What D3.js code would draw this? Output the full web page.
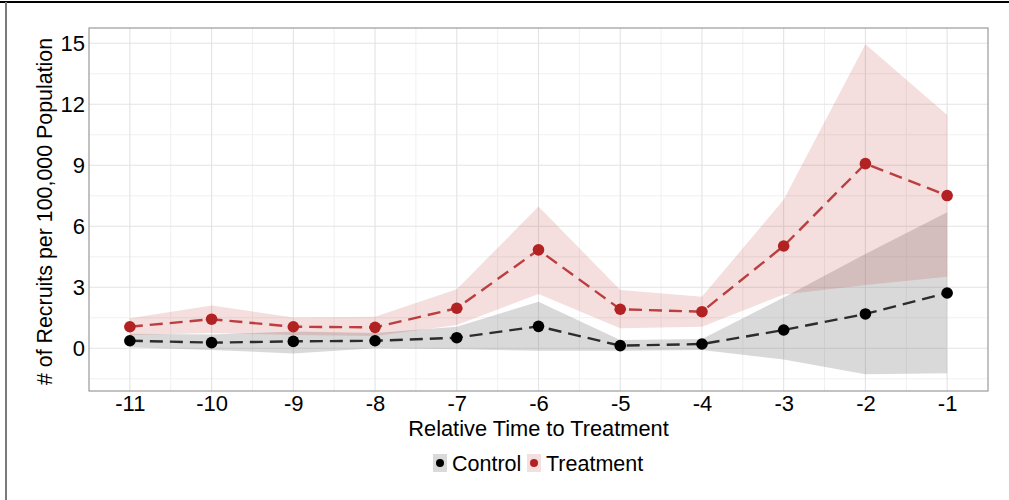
<!DOCTYPE html>
<html>
<head>
<meta charset="utf-8">
<script src="https://cdn.jsdelivr.net/npm/d3@7"></script>
<style>
  body { margin: 0; background: #fff; }
  svg { display: block; font-family: "Liberation Sans", Arial, sans-serif; }
</style>
</head>
<body>
<div class="canvas"></div>
<script>
// data
const times = [-11, -10, -9, -8, -7, -6, -5, -4, -3, -2, -1];
const controlMean = [0.37, 0.28, 0.34, 0.37, 0.52, 1.08, 0.13, 0.21, 0.90, 1.69, 2.72];
const controlLow = [0.05, -0.08, -0.25, 0.0, -0.05, -0.12, -0.12, -0.08, -0.55, -1.28, -1.23];
const controlHigh = [0.72, 0.68, 0.82, 0.75, 1.06, 2.29, 0.41, 0.46, 2.5, 4.64, 6.69];
const treatMean = [1.06, 1.43, 1.06, 1.03, 1.97, 4.84, 1.92, 1.80, 5.03, 9.08, 7.51];
const treatLow = [0.65, 0.75, 0.65, 0.6, 1.15, 2.67, 0.98, 1.06, 2.65, 3.11, 3.52];
const treatHigh = [1.48, 2.10, 1.52, 1.55, 2.9, 6.97, 2.87, 2.54, 7.3, 14.95, 11.47];
const yTicks = [0, 3, 6, 9, 12, 15];
const yMinor = [-1.5, 1.5, 4.5, 7.5, 10.5, 13.5];
const xMinor = [-10.5, -9.5, -8.5, -7.5, -6.5, -5.5, -4.5, -3.5, -2.5, -1.5];
const legendKeys = ['Control', 'Treatment'];

const dims = {
  width: 1009,
  height: 500,
  left: 89,
  top: 28,
  right: 988,
  bottom: 391,
  font: '"Liberation Sans", Arial, sans-serif'
};

const red = '#b22222';

const series = [
  { name: 'Control', mean: controlMean, low: controlLow, high: controlHigh,
    fill: 'rgba(128,128,128,0.3)', line: 'rgba(0,0,0,0.8)', point: '#000' },
  { name: 'Treatment', mean: treatMean, low: treatLow, high: treatHigh,
    fill: 'rgba(178,34,34,0.15)', line: 'rgba(178,34,34,0.85)', point: red }
];

const svg = d3.select('.canvas')
  .append('svg')
  .attr('width', dims.width)
  .attr('height', dims.height);

// outer frame
svg.append('line')
  .attr('x1', 0).attr('x2', dims.width).attr('y1', 2).attr('y2', 2)
  .attr('stroke', '#000').attr('stroke-width', 2);
svg.append('line')
  .attr('x1', 6).attr('x2', 6).attr('y1', 2).attr('y2', dims.height)
  .attr('stroke', '#7a7a7a').attr('stroke-width', 2);

// scales
const x = d3.scaleLinear().domain([-11.5, -0.5]).range([dims.left, dims.right]);
const y = d3.scaleLinear().domain([-2.1, 15.75]).range([dims.bottom, dims.top]);

// grid
const grid = svg.append('g');
grid.selectAll('.ymin').data(yMinor).enter().append('line')
  .attr('x1', dims.left).attr('x2', dims.right)
  .attr('y1', d => y(d)).attr('y2', d => y(d))
  .attr('stroke', '#f0f0f0').attr('stroke-width', 1);
grid.selectAll('.xmin').data(xMinor).enter().append('line')
  .attr('y1', dims.top).attr('y2', dims.bottom)
  .attr('x1', d => x(d)).attr('x2', d => x(d))
  .attr('stroke', '#f0f0f0').attr('stroke-width', 1);
grid.selectAll('.ymaj').data(yTicks).enter().append('line')
  .attr('x1', dims.left).attr('x2', dims.right)
  .attr('y1', d => y(d)).attr('y2', d => y(d))
  .attr('stroke', '#e3e3e3').attr('stroke-width', 1.1);
grid.selectAll('.xmaj').data(times).enter().append('line')
  .attr('y1', dims.top).attr('y2', dims.bottom)
  .attr('x1', d => x(d)).attr('x2', d => x(d))
  .attr('stroke', '#e3e3e3').attr('stroke-width', 1.1);

// ribbons
const area = d3.area()
  .x(d => x(d.t))
  .y0(d => y(d.lo))
  .y1(d => y(d.hi));

series.forEach(s => {
  const pts = times.map((t, i) => ({ t: t, lo: s.low[i], hi: s.high[i] }));
  svg.append('path').datum(pts)
    .attr('d', area)
    .attr('fill', s.fill);
});

// lines and points
const line = d3.line().x(d => x(d.t)).y(d => y(d.v));
series.forEach(s => {
  const pts = times.map((t, i) => ({ t: t, v: s.mean[i] }));
  svg.append('path').datum(pts)
    .attr('d', line)
    .attr('fill', 'none')
    .attr('stroke', s.line)
    .attr('stroke-width', 2.4)
    .attr('stroke-dasharray', '13,7');
  svg.selectAll(null).data(pts).enter().append('circle')
    .attr('cx', d => x(d.t))
    .attr('cy', d => y(d.v))
    .attr('r', 5.8)
    .attr('fill', s.point);
});

// panel border
svg.append('rect')
  .attr('x', dims.left).attr('y', dims.top)
  .attr('width', dims.right - dims.left)
  .attr('height', dims.bottom - dims.top)
  .attr('fill', 'none')
  .attr('stroke', '#9a9a9a')
  .attr('stroke-width', 1.2);

// axes
const xAxis = d3.axisBottom(x).tickValues(times).tickSize(0).tickPadding(4)
  .tickFormat(d => String(d));
const yAxis = d3.axisLeft(y).tickValues(yTicks).tickSize(0).tickPadding(4)
  .tickFormat(d => String(d));

const xg = svg.append('g').attr('transform', `translate(0, ${dims.bottom})`).call(xAxis);
const yg = svg.append('g').attr('transform', `translate(${dims.left}, 0)`).call(yAxis);
[xg, yg].forEach(g => {
  g.select('.domain').remove();
  g.selectAll('text')
    .attr('fill', '#000')
    .attr('font-family', dims.font)
    .attr('font-size', 22);
});

// axis titles
svg.append('text')
  .attr('x', (dims.left + dims.right) / 2)
  .attr('y', 436)
  .attr('text-anchor', 'middle')
  .attr('font-size', 21.8)
  .text('Relative Time to Treatment');

svg.append('text')
  .attr('transform', `translate(52, ${(dims.top + dims.bottom) / 2 + 2}) rotate(-90)`)
  .attr('text-anchor', 'middle')
  .attr('font-size', 21.4)
  .text('# of Recruits per 100,000 Population');

// legend
const legendX = [433, 527];
const legend = svg.append('g');
series.forEach((s, i) => {
  const g = legend.append('g').attr('transform', `translate(${legendX[i]}, 454)`);
  g.append('rect').attr('width', 14).attr('height', 18).attr('fill', s.fill);
  g.append('circle').attr('cx', 7).attr('cy', 9).attr('r', 4).attr('fill', s.point);
  g.append('text')
    .attr('x', 19).attr('y', 17)
    .attr('font-size', 21.5)
    .text(legendKeys[i]);
});
</script>
</body>
</html>
